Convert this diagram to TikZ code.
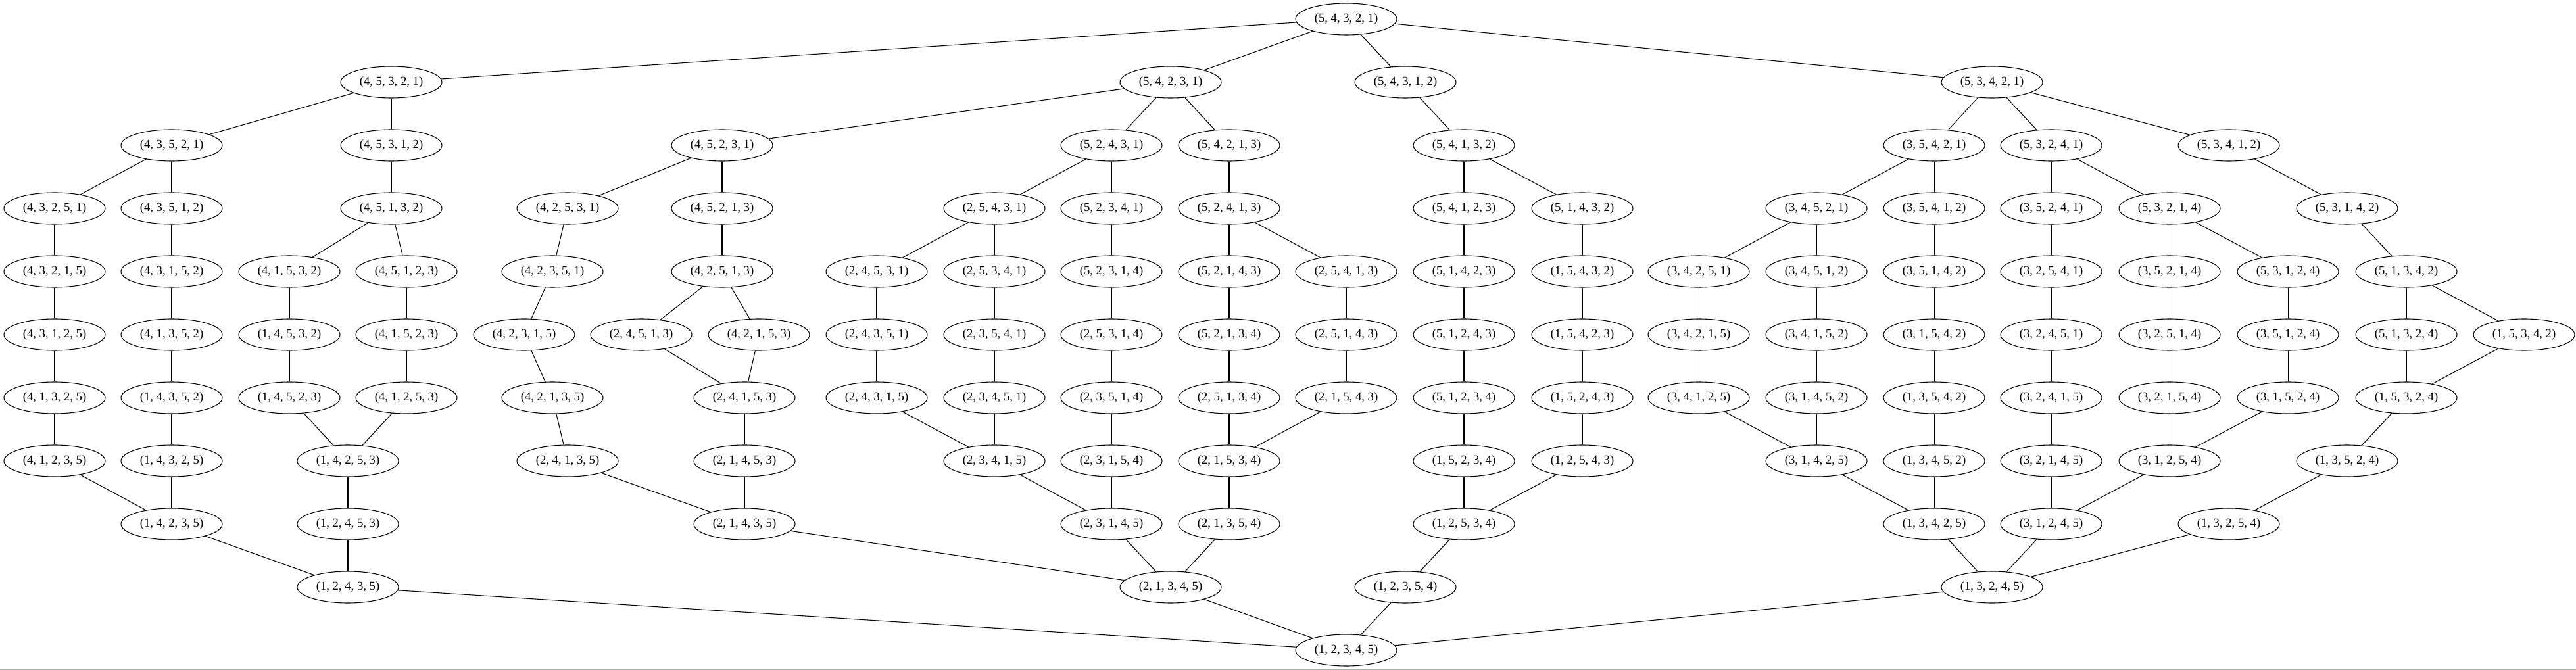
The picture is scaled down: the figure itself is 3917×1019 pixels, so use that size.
\documentclass[tikz,border=0pt]{standalone}
\usepackage{fontspec}
\setmainfont{Liberation Serif}
\usetikzlibrary{shapes.geometric}
\definecolor{edgegray}{RGB}{170,170,170}

\tikzset{
    perm/.style={draw, ellipse, line width=0.8pt, minimum width=115.5pt, minimum height=36pt, inner sep=0pt, font=\fontsize{14}{16}\selectfont},
    link/.style={line width=0.8pt}
}

\begin{document}
\begin{tikzpicture}[x=0.75pt, y=-0.75pt]
    \useasboundingbox (0,0) rectangle (3917,1019);
    \fill[edgegray] (0,1017.6) rectangle (3917,1019);

    % Row 0
    \node[perm] (p54321) at (2047,29) {(5, 4, 3, 2, 1)};

    % Row 1
    \node[perm] (p45321) at (595,125) {(4, 5, 3, 2, 1)};
    \node[perm] (p54231) at (1780,125) {(5, 4, 2, 3, 1)};
    \node[perm] (p54312) at (2137,125) {(5, 4, 3, 1, 2)};
    \node[perm] (p53421) at (3029,125) {(5, 3, 4, 2, 1)};

    % Row 2
    \node[perm] (p43521) at (261,221) {(4, 3, 5, 2, 1)};
    \node[perm] (p45312) at (595,221) {(4, 5, 3, 1, 2)};
    \node[perm] (p45231) at (1098,221) {(4, 5, 2, 3, 1)};
    \node[perm] (p52431) at (1690,221) {(5, 2, 4, 3, 1)};
    \node[perm] (p54213) at (1869,221) {(5, 4, 2, 1, 3)};
    \node[perm] (p54132) at (2226,221) {(5, 4, 1, 3, 2)};
    \node[perm] (p35421) at (2941,221) {(3, 5, 4, 2, 1)};
    \node[perm] (p53241) at (3119,221) {(5, 3, 2, 4, 1)};
    \node[perm] (p53412) at (3389,221) {(5, 3, 4, 1, 2)};

    % Row 3
    \node[perm] (p43251) at (83,317) {(4, 3, 2, 5, 1)};
    \node[perm] (p43512) at (261,317) {(4, 3, 5, 1, 2)};
    \node[perm] (p45132) at (595,317) {(4, 5, 1, 3, 2)};
    \node[perm] (p42531) at (863,317) {(4, 2, 5, 3, 1)};
    \node[perm] (p45213) at (1098,317) {(4, 5, 2, 1, 3)};
    \node[perm] (p25431) at (1512,317) {(2, 5, 4, 3, 1)};
    \node[perm] (p52341) at (1690,317) {(5, 2, 3, 4, 1)};
    \node[perm] (p52413) at (1869,317) {(5, 2, 4, 1, 3)};
    \node[perm] (p54123) at (2226,317) {(5, 4, 1, 2, 3)};
    \node[perm] (p51432) at (2406,317) {(5, 1, 4, 3, 2)};
    \node[perm] (p34521) at (2762,317) {(3, 4, 5, 2, 1)};
    \node[perm] (p35412) at (2941,317) {(3, 5, 4, 1, 2)};
    \node[perm] (p35241) at (3119,317) {(3, 5, 2, 4, 1)};
    \node[perm] (p53214) at (3299,317) {(5, 3, 2, 1, 4)};
    \node[perm] (p53142) at (3569,317) {(5, 3, 1, 4, 2)};

    % Row 4
    \node[perm] (p43215) at (83,413) {(4, 3, 2, 1, 5)};
    \node[perm] (p43152) at (261,413) {(4, 3, 1, 5, 2)};
    \node[perm] (p41532) at (440,413) {(4, 1, 5, 3, 2)};
    \node[perm] (p45123) at (618,413) {(4, 5, 1, 2, 3)};
    \node[perm] (p42351) at (840,413) {(4, 2, 3, 5, 1)};
    \node[perm] (p42513) at (1098,413) {(4, 2, 5, 1, 3)};
    \node[perm] (p24531) at (1333,413) {(2, 4, 5, 3, 1)};
    \node[perm] (p25341) at (1512,413) {(2, 5, 3, 4, 1)};
    \node[perm] (p52314) at (1690,413) {(5, 2, 3, 1, 4)};
    \node[perm] (p52143) at (1869,413) {(5, 2, 1, 4, 3)};
    \node[perm] (p25413) at (2047,413) {(2, 5, 4, 1, 3)};
    \node[perm] (p51423) at (2226,413) {(5, 1, 4, 2, 3)};
    \node[perm] (p15432) at (2406,413) {(1, 5, 4, 3, 2)};
    \node[perm] (p34251) at (2583,413) {(3, 4, 2, 5, 1)};
    \node[perm] (p34512) at (2762,413) {(3, 4, 5, 1, 2)};
    \node[perm] (p35142) at (2941,413) {(3, 5, 1, 4, 2)};
    \node[perm] (p32541) at (3119,413) {(3, 2, 5, 4, 1)};
    \node[perm] (p35214) at (3299,413) {(3, 5, 2, 1, 4)};
    \node[perm] (p53124) at (3479,413) {(5, 3, 1, 2, 4)};
    \node[perm] (p51342) at (3659,413) {(5, 1, 3, 4, 2)};

    % Row 5
    \node[perm] (p43125) at (83,509) {(4, 3, 1, 2, 5)};
    \node[perm] (p41352) at (261,509) {(4, 1, 3, 5, 2)};
    \node[perm] (p14532) at (440,509) {(1, 4, 5, 3, 2)};
    \node[perm] (p41523) at (618,509) {(4, 1, 5, 2, 3)};
    \node[perm] (p42315) at (797,509) {(4, 2, 3, 1, 5)};
    \node[perm] (p24513) at (975,509) {(2, 4, 5, 1, 3)};
    \node[perm] (p42153) at (1154,509) {(4, 2, 1, 5, 3)};
    \node[perm] (p24351) at (1333,509) {(2, 4, 3, 5, 1)};
    \node[perm] (p23541) at (1512,509) {(2, 3, 5, 4, 1)};
    \node[perm] (p25314) at (1690,509) {(2, 5, 3, 1, 4)};
    \node[perm] (p52134) at (1869,509) {(5, 2, 1, 3, 4)};
    \node[perm] (p25143) at (2047,509) {(2, 5, 1, 4, 3)};
    \node[perm] (p51243) at (2226,509) {(5, 1, 2, 4, 3)};
    \node[perm] (p15423) at (2406,509) {(1, 5, 4, 2, 3)};
    \node[perm] (p34215) at (2583,509) {(3, 4, 2, 1, 5)};
    \node[perm] (p34152) at (2762,509) {(3, 4, 1, 5, 2)};
    \node[perm] (p31542) at (2941,509) {(3, 1, 5, 4, 2)};
    \node[perm] (p32451) at (3119,509) {(3, 2, 4, 5, 1)};
    \node[perm] (p32514) at (3299,509) {(3, 2, 5, 1, 4)};
    \node[perm] (p35124) at (3479,509) {(3, 5, 1, 2, 4)};
    \node[perm] (p51324) at (3659,509) {(5, 1, 3, 2, 4)};
    \node[perm] (p15342) at (3838,509) {(1, 5, 3, 4, 2)};

    % Row 6
    \node[perm] (p41325) at (83,605) {(4, 1, 3, 2, 5)};
    \node[perm] (p14352) at (261,605) {(1, 4, 3, 5, 2)};
    \node[perm] (p14523) at (440,605) {(1, 4, 5, 2, 3)};
    \node[perm] (p41253) at (618,605) {(4, 1, 2, 5, 3)};
    \node[perm] (p42135) at (840,605) {(4, 2, 1, 3, 5)};
    \node[perm] (p24153) at (1132,605) {(2, 4, 1, 5, 3)};
    \node[perm] (p24315) at (1333,605) {(2, 4, 3, 1, 5)};
    \node[perm] (p23451) at (1512,605) {(2, 3, 4, 5, 1)};
    \node[perm] (p23514) at (1690,605) {(2, 3, 5, 1, 4)};
    \node[perm] (p25134) at (1869,605) {(2, 5, 1, 3, 4)};
    \node[perm] (p21543) at (2047,605) {(2, 1, 5, 4, 3)};
    \node[perm] (p51234) at (2226,605) {(5, 1, 2, 3, 4)};
    \node[perm] (p15243) at (2406,605) {(1, 5, 2, 4, 3)};
    \node[perm] (p34125) at (2583,605) {(3, 4, 1, 2, 5)};
    \node[perm] (p31452) at (2762,605) {(3, 1, 4, 5, 2)};
    \node[perm] (p13542) at (2941,605) {(1, 3, 5, 4, 2)};
    \node[perm] (p32415) at (3119,605) {(3, 2, 4, 1, 5)};
    \node[perm] (p32154) at (3299,605) {(3, 2, 1, 5, 4)};
    \node[perm] (p31524) at (3479,605) {(3, 1, 5, 2, 4)};
    \node[perm] (p15324) at (3659,605) {(1, 5, 3, 2, 4)};

    % Row 7
    \node[perm] (p41235) at (83,701) {(4, 1, 2, 3, 5)};
    \node[perm] (p14325) at (261,701) {(1, 4, 3, 2, 5)};
    \node[perm] (p14253) at (529,701) {(1, 4, 2, 5, 3)};
    \node[perm] (p24135) at (863,701) {(2, 4, 1, 3, 5)};
    \node[perm] (p21453) at (1132,701) {(2, 1, 4, 5, 3)};
    \node[perm] (p23415) at (1512,701) {(2, 3, 4, 1, 5)};
    \node[perm] (p23154) at (1690,701) {(2, 3, 1, 5, 4)};
    \node[perm] (p21534) at (1869,701) {(2, 1, 5, 3, 4)};
    \node[perm] (p15234) at (2226,701) {(1, 5, 2, 3, 4)};
    \node[perm] (p12543) at (2406,701) {(1, 2, 5, 4, 3)};
    \node[perm] (p31425) at (2762,701) {(3, 1, 4, 2, 5)};
    \node[perm] (p13452) at (2941,701) {(1, 3, 4, 5, 2)};
    \node[perm] (p32145) at (3119,701) {(3, 2, 1, 4, 5)};
    \node[perm] (p31254) at (3299,701) {(3, 1, 2, 5, 4)};
    \node[perm] (p13524) at (3569,701) {(1, 3, 5, 2, 4)};

    % Row 8
    \node[perm] (p14235) at (261,797) {(1, 4, 2, 3, 5)};
    \node[perm] (p12453) at (529,797) {(1, 2, 4, 5, 3)};
    \node[perm] (p21435) at (1132,797) {(2, 1, 4, 3, 5)};
    \node[perm] (p23145) at (1690,797) {(2, 3, 1, 4, 5)};
    \node[perm] (p21354) at (1869,797) {(2, 1, 3, 5, 4)};
    \node[perm] (p12534) at (2226,797) {(1, 2, 5, 3, 4)};
    \node[perm] (p13425) at (2941,797) {(1, 3, 4, 2, 5)};
    \node[perm] (p31245) at (3119,797) {(3, 1, 2, 4, 5)};
    \node[perm] (p13254) at (3389,797) {(1, 3, 2, 5, 4)};

    % Row 9
    \node[perm] (p12435) at (529,893) {(1, 2, 4, 3, 5)};
    \node[perm] (p21345) at (1780,893) {(2, 1, 3, 4, 5)};
    \node[perm] (p12354) at (2137,893) {(1, 2, 3, 5, 4)};
    \node[perm] (p13245) at (3029,893) {(1, 3, 2, 4, 5)};

    % Row 10
    \node[perm] (p12345) at (2047,989) {(1, 2, 3, 4, 5)};

    % Edges 0-1
    \draw[link] (p54321) -- (p45321); \draw[link] (p54321) -- (p54231);
    \draw[link] (p54321) -- (p54312); \draw[link] (p54321) -- (p53421);

    % Edges 1-2
    \draw[link] (p45321) -- (p43521); \draw[link] (p45321) -- (p45312);
    \draw[link] (p54231) -- (p45231); \draw[link] (p54231) -- (p52431); \draw[link] (p54231) -- (p54213);
    \draw[link] (p54312) -- (p54132);
    \draw[link] (p53421) -- (p35421); \draw[link] (p53421) -- (p53241); \draw[link] (p53421) -- (p53412);

    % Edges 2-3
    \draw[link] (p43521) -- (p43251); \draw[link] (p43521) -- (p43512);
    \draw[link] (p45312) -- (p45132);
    \draw[link] (p45231) -- (p42531); \draw[link] (p45231) -- (p45213);
    \draw[link] (p52431) -- (p25431); \draw[link] (p52431) -- (p52341);
    \draw[link] (p54213) -- (p52413);
    \draw[link] (p54132) -- (p54123); \draw[link] (p54132) -- (p51432);
    \draw[link] (p35421) -- (p34521); \draw[link] (p35421) -- (p35412);
    \draw[link] (p53241) -- (p35241); \draw[link] (p53241) -- (p53214);
    \draw[link] (p53412) -- (p53142);

    % Edges 3-4
    \draw[link] (p43251) -- (p43215);
    \draw[link] (p43512) -- (p43152);
    \draw[link] (p45132) -- (p41532); \draw[link] (p45132) -- (p45123);
    \draw[link] (p42531) -- (p42351);
    \draw[link] (p45213) -- (p42513);
    \draw[link] (p25431) -- (p24531); \draw[link] (p25431) -- (p25341);
    \draw[link] (p52341) -- (p52314);
    \draw[link] (p52413) -- (p52143); \draw[link] (p52413) -- (p25413);
    \draw[link] (p54123) -- (p51423);
    \draw[link] (p51432) -- (p15432);
    \draw[link] (p34521) -- (p34251); \draw[link] (p34521) -- (p34512);
    \draw[link] (p35412) -- (p35142);
    \draw[link] (p35241) -- (p32541);
    \draw[link] (p53214) -- (p35214); \draw[link] (p53214) -- (p53124);
    \draw[link] (p53142) -- (p51342);

    % Edges 4-5
    \draw[link] (p43215) -- (p43125);
    \draw[link] (p43152) -- (p41352);
    \draw[link] (p41532) -- (p14532);
    \draw[link] (p45123) -- (p41523);
    \draw[link] (p42351) -- (p42315);
    \draw[link] (p42513) -- (p24513); \draw[link] (p42513) -- (p42153);
    \draw[link] (p24531) -- (p24351);
    \draw[link] (p25341) -- (p23541);
    \draw[link] (p52314) -- (p25314);
    \draw[link] (p52143) -- (p52134);
    \draw[link] (p25413) -- (p25143);
    \draw[link] (p51423) -- (p51243);
    \draw[link] (p15432) -- (p15423);
    \draw[link] (p34251) -- (p34215);
    \draw[link] (p34512) -- (p34152);
    \draw[link] (p35142) -- (p31542);
    \draw[link] (p32541) -- (p32451);
    \draw[link] (p35214) -- (p32514);
    \draw[link] (p53124) -- (p35124);
    \draw[link] (p51342) -- (p51324); \draw[link] (p51342) -- (p15342);

    % Edges 5-6
    \draw[link] (p43125) -- (p41325);
    \draw[link] (p41352) -- (p14352);
    \draw[link] (p14532) -- (p14523);
    \draw[link] (p41523) -- (p41253);
    \draw[link] (p42315) -- (p42135);
    \draw[link] (p24513) -- (p24153); \draw[link] (p42153) -- (p24153);
    \draw[link] (p24351) -- (p24315);
    \draw[link] (p23541) -- (p23451);
    \draw[link] (p25314) -- (p23514);
    \draw[link] (p52134) -- (p25134);
    \draw[link] (p25143) -- (p21543);
    \draw[link] (p51243) -- (p51234);
    \draw[link] (p15423) -- (p15243);
    \draw[link] (p34215) -- (p34125);
    \draw[link] (p34152) -- (p31452);
    \draw[link] (p31542) -- (p13542);
    \draw[link] (p32451) -- (p32415);
    \draw[link] (p32514) -- (p32154);
    \draw[link] (p35124) -- (p31524);
    \draw[link] (p51324) -- (p15324); \draw[link] (p15342) -- (p15324);

    % Edges 6-7
    \draw[link] (p41325) -- (p41235);
    \draw[link] (p14352) -- (p14325);
    \draw[link] (p14523) -- (p14253); \draw[link] (p41253) -- (p14253);
    \draw[link] (p42135) -- (p24135);
    \draw[link] (p24153) -- (p21453);
    \draw[link] (p24315) -- (p23415); \draw[link] (p23451) -- (p23415);
    \draw[link] (p23514) -- (p23154);
    \draw[link] (p25134) -- (p21534); \draw[link] (p21543) -- (p21534);
    \draw[link] (p51234) -- (p15234);
    \draw[link] (p15243) -- (p12543);
    \draw[link] (p34125) -- (p31425); \draw[link] (p31452) -- (p31425);
    \draw[link] (p13542) -- (p13452);
    \draw[link] (p32415) -- (p32145);
    \draw[link] (p32154) -- (p31254); \draw[link] (p31524) -- (p31254);
    \draw[link] (p15324) -- (p13524);

    % Edges 7-8
    \draw[link] (p41235) -- (p14235); \draw[link] (p14325) -- (p14235);
    \draw[link] (p14253) -- (p12453);
    \draw[link] (p24135) -- (p21435); \draw[link] (p21453) -- (p21435);
    \draw[link] (p23415) -- (p23145); \draw[link] (p23154) -- (p23145);
    \draw[link] (p21534) -- (p21354);
    \draw[link] (p15234) -- (p12534); \draw[link] (p12543) -- (p12534);
    \draw[link] (p31425) -- (p13425); \draw[link] (p13452) -- (p13425);
    \draw[link] (p32145) -- (p31245); \draw[link] (p31254) -- (p31245);
    \draw[link] (p13524) -- (p13254);

    % Edges 8-9
    \draw[link] (p14235) -- (p12435); \draw[link] (p12453) -- (p12435);
    \draw[link] (p21435) -- (p21345); \draw[link] (p23145) -- (p21345); \draw[link] (p21354) -- (p21345);
    \draw[link] (p12534) -- (p12354);
    \draw[link] (p13425) -- (p13245); \draw[link] (p31245) -- (p13245); \draw[link] (p13254) -- (p13245);

    % Edges 9-10
    \draw[link] (p12435) -- (p12345); \draw[link] (p21345) -- (p12345);
    \draw[link] (p12354) -- (p12345); \draw[link] (p13245) -- (p12345);
\end{tikzpicture}
\end{document}
